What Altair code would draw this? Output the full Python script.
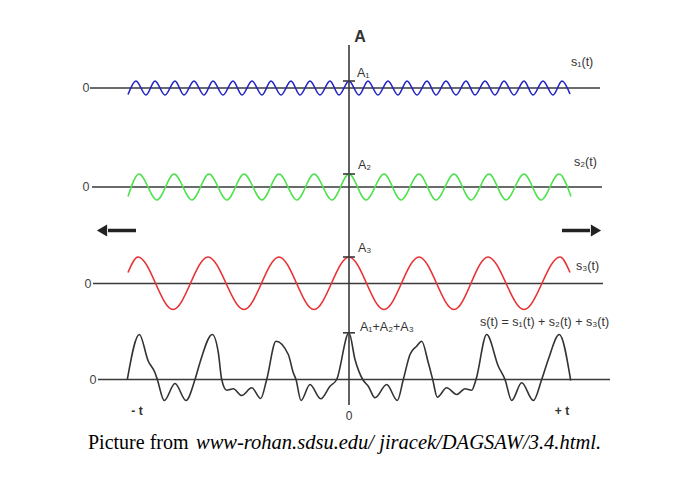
import altair as alt
import pandas as pd

# Horizontal position t is measured from the vertical "A" axis (t = 0);
# amplitudes are measured upward from each signal's own zero line.
BLUE_T = [-221, -213, -203, -194, -184, -174, -165, -155, -145, -136, -126, -116,
          -107, -97, -87, -78, -68, -58, -49, -39, -29, -19, -10, 0, 10, 19, 29,
          39, 49, 58, 68, 78, 87, 97, 107, 117, 126, 136, 146, 155, 165, 175,
          184, 194, 204, 213, 221]
BLUE_A = [-6.5, 7, -7, 7, -7, 7, -7, 7, -7, 7, -7, 7, -7, 7, -7, 7, -7, 7, -7, 7,
          -7, 7, -7, 7, -7, 7, -7, 7, -7, 7, -7, 7, -7, 7, -7, 7, -7, 7, -7, 7,
          -7, 7, -7, 7, -7, 7, -6]

GREEN_T = [-221, -210, -192, -175, -157, -140, -122, -105, -87, -70, -52, -35, -17,
           0, 17, 35, 52, 70, 87, 105, 122, 140, 157, 175, 192, 210, 222]
GREEN_A = [-9.5, 13, -13, 13, -13, 13, -13, 13, -13, 13, -13, 13, -13,
           13, -13, 13, -13, 13, -13, 13, -13, 13, -13, 13, -13, 13, -9.5]

RED_T = [-221, -211, -176, -141, -105, -70, -35, 0, 35, 70, 105, 139, 175, 211, 221]
RED_A = [11, 26.5, -26, 26.5, -26, 26.5, -26, 26.5, -26, 26.5, -26, 26.5, -26, 26.5, 11]

SUM_T = [-221.7, -209.7, -200.7, -194, -191.7, -184.7, -174, -163, -154, -149,
         -136.7, -130.7, -127.3, -122.3, -115.7, -107.3, -97.3, -88.3, -82.3, -73,
         -60.7, -55.7, -53, -48, -39, -28.3, -19, -12.3, 0, 6, 13.7, 19.3, 26,
         37.7, 48.3, 54.3, 61, 67.7, 72.7, 79.3, 83.7, 88.3, 97.7, 107.7, 116,
         122.7, 127, 137.7, 149.3, 156, 162.7, 172.7, 184.3, 192.7, 199.3, 210.3,
         221.7]
SUM_A = [0, 45, 18.3, 6.7, 0, -21, -4, -21, 0, 17,
         45, 27, 0, -10.7, -9.3, -16, -8.3, -19, 0, 38.3,
         25, 6.7, 0, -21, -5, -19.3, -6.7, 0, 46.7, 20, 0, -6.7, -18.3,
         -5, -21, 0, 25, 33.3, 38.3, 16.7, 0, -17.7, -8.3, -15, -9.3,
         -10.7, 0, 45, 13.3, 0, -21, -3.3, -21, 0, 20, 45,
         -1]

SERIES = ["s1", "s2", "s3", "s"]
COLORS = ["#2323c8", "#4ee24e", "#e83236", "#333333"]
LINE_TEXT = ["s\u2081(t)", "s\u2082(t)", "s\u2083(t)", "s(t) = s\u2081(t) + s\u2082(t) + s\u2083(t)"]
PEAK_TEXT = ["A\u2081", "A\u2082", "A\u2083", "A\u2081+A\u2082+A\u2083"]

# layout (vertical position of each zero line, in chart units measured upward)
BASE = [383, 284, 187.5, 91.5]
ZERO_FROM = [-259, -257, -256, -251]
ZERO_TO = [251, 253, 254, 261]
PEAK_LABEL_RISE = [8, 9, 9, 6]

XS = alt.Scale(domain=[-341, 334], nice=False, zero=False)
YS = alt.Scale(domain=[0, 463], nice=False, zero=False)


def X(f="t"):
    return alt.X(f"{f}:Q", scale=XS, axis=None)


def Y(f="up"):
    return alt.Y(f"{f}:Q", scale=YS, axis=None)


layers = []
waves = [(BLUE_T, BLUE_A), (GREEN_T, GREEN_A), (RED_T, RED_A), (SUM_T, SUM_A)]

# zero lines
zero_df = pd.DataFrame({"t": ZERO_FROM, "t2": ZERO_TO, "up": BASE})
layers.append(alt.Chart(zero_df).mark_rule(color="#3a3a3a", strokeWidth=1.6).encode(
    x=X(), x2="t2:Q", y=Y()))

# vertical A axis
axis_df = pd.DataFrame({"t": [0], "up": [66], "up2": [426]})
layers.append(alt.Chart(axis_df).mark_rule(color="#3a3a3a", strokeWidth=1.6).encode(
    x=X(), y=Y(), y2="up2:Q"))

# waves
for (ts, amps), base, col in zip(waves, BASE, COLORS):
    df = pd.DataFrame({"t": ts, "up": [base + a for a in amps], "i": range(len(ts))})
    layers.append(alt.Chart(df).mark_line(interpolate="monotone", color=col, strokeWidth=1.6).encode(
        x=X(), y=Y(), order="i:Q"))

# peak ticks on the A axis
peak_up = [b + max(a) for b, (_, a) in zip(BASE, waves)]
tick_df = pd.DataFrame({"t": [-6] * 4, "t2": [6] * 4, "up": peak_up})
layers.append(alt.Chart(tick_df).mark_rule(color="#3a3a3a", strokeWidth=1.6).encode(
    x=X(), x2="t2:Q", y=Y()))

# peak labels
peak_lbl = pd.DataFrame({"t": [8, 9, 9, 11],
                         "up": [p + r for p, r in zip(peak_up, PEAK_LABEL_RISE)],
                         "text": PEAK_TEXT})
layers.append(alt.Chart(peak_lbl).mark_text(align="left", baseline="middle", fontSize=12.5,
                                            font="Liberation Sans", color="#333333").encode(
    x=X(), y=Y(), text="text:N"))

# series labels
ser_lbl = pd.DataFrame({"t": [222, 225, 227, 131], "up": [409, 309, 205, 149], "text": LINE_TEXT})
layers.append(alt.Chart(ser_lbl).mark_text(align="left", baseline="middle", fontSize=12.5,
                                           font="Liberation Sans", color="#333333").encode(
    x=X(), y=Y(), text="text:N"))

# zero labels
zl = pd.DataFrame({"t": [-263, -263, -261, -256], "up": BASE, "text": ["0"] * 4})
layers.append(alt.Chart(zl).mark_text(align="center", baseline="middle", fontSize=12.5,
                                      font="Liberation Sans", color="#444444").encode(
    x=X(), y=Y(), text="text:N"))

# A title
layers.append(alt.Chart(pd.DataFrame({"t": [11], "up": [434], "text": ["A"]})).mark_text(
    align="center", baseline="middle", fontSize=16, fontWeight="bold",
    font="Liberation Sans", color="#333333").encode(x=X(), y=Y(), text="text:N"))

# time labels
tl = pd.DataFrame({"t": [-212, 213], "up": [60, 60], "text": ["- t", "+ t"]})
layers.append(alt.Chart(tl).mark_text(align="center", baseline="middle", fontSize=12,
                                      fontWeight="bold", font="Liberation Sans",
                                      color="#333333").encode(x=X(), y=Y(), text="text:N"))
layers.append(alt.Chart(pd.DataFrame({"t": [0], "up": [55], "text": ["0"]})).mark_text(
    align="center", baseline="middle", fontSize=12, font="Liberation Sans",
    color="#333333").encode(x=X(), y=Y(), text="text:N"))

# arrows
shaft = pd.DataFrame({"t": [-241, 213], "t2": [-213, 241], "up": [240.5, 240.5]})
layers.append(alt.Chart(shaft).mark_rule(color="#222222", strokeWidth=3.5).encode(
    x=X(), x2="t2:Q", y=Y()))
heads = pd.DataFrame({"t": [-247, 247], "up": [240.5, 240.5], "shape": ["triangle-left", "triangle-right"]})
layers.append(alt.Chart(heads).mark_point(filled=True, color="#222222", size=140, opacity=1).encode(
    x=X(), y=Y(), shape=alt.Shape("shape:N", scale=None)))

# caption
cap1 = pd.DataFrame({"t": [-261], "up": [28], "text": ["Picture from"]})
layers.append(alt.Chart(cap1).mark_text(align="left", baseline="middle", fontSize=20,
                                        font="Liberation Serif", color="#000000").encode(
    x=X(), y=Y(), text="text:N"))
cap2 = pd.DataFrame({"t": [-153], "up": [28], "text": ["www-rohan.sdsu.edu/ jiracek/DAGSAW/3.4.html."]})
layers.append(alt.Chart(cap2).mark_text(align="left", baseline="middle", fontSize=20.5,
                                        fontStyle="italic", font="Liberation Serif",
                                        color="#000000").encode(x=X(), y=Y(), text="text:N"))

chart = alt.layer(*layers).properties(
    width=675, height=463, padding=0, background="white",
    autosize=alt.AutoSizeParams(type="none")
).configure_view(strokeWidth=0)

chart.save("out.html", embed_options={"renderer": "svg", "actions": False})
